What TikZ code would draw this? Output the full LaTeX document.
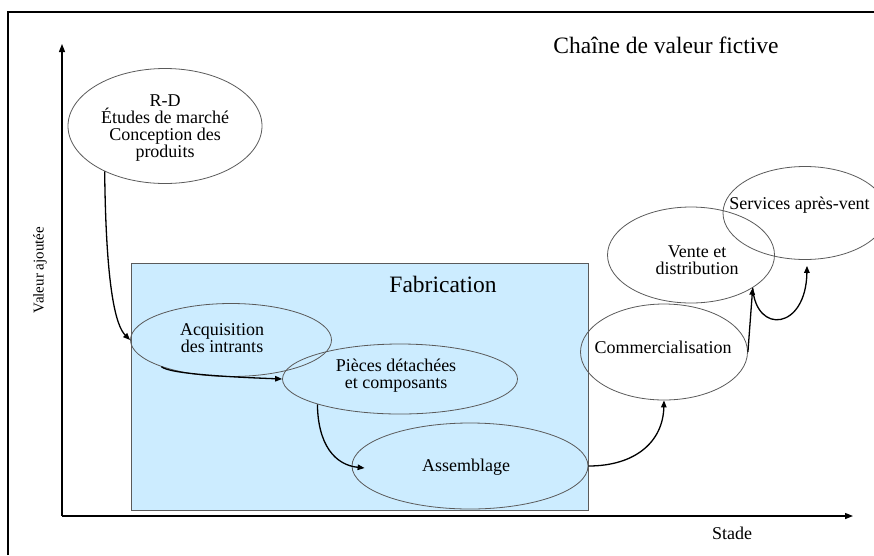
\documentclass[tikz,border=0pt]{standalone}
\usepackage{fontspec}
\setmainfont{Liberation Serif}
\usetikzlibrary{arrows.meta,shapes.geometric,calc}
\definecolor{fabblue}{HTML}{CCECFF}
\definecolor{ellgray}{HTML}{5A5A5A}
\begin{document}
\begin{tikzpicture}[x=1pt,y=-1pt,
  ell/.style={ellipse,draw=ellgray,line width=0.8pt,inner sep=0pt},
  lbl/.style={align=center,inner sep=0pt,font=\fontsize{18}{17}\selectfont},
  big/.style={inner sep=0pt,font=\fontsize{23.5}{26}\selectfont},
  conn/.style={line width=1.3pt,-{Triangle[length=7pt,width=5.5pt]}},
  axisline/.style={line width=1.3pt,-{Triangle[length=8pt,width=6pt]}},
]
\useasboundingbox (0,0) rectangle (874,555);
% frame
\draw[line width=1.5pt] (8,555) -- (8,12) -- (874,12);
% axes
\coordinate (origin) at (62,516);
\coordinate (ytip) at (62,44);
\coordinate (xtip) at (853,516);
\draw[axisline] (origin) -- (ytip);
\draw[axisline] (origin) -- (xtip);
\node[inner sep=0pt,rotate=90,font=\fontsize{15}{17}\selectfont] (yl) at (40,270) {Valeur ajoutée};
\node[lbl] (xl) at (732,533) {Stade};
\node[big] (title) at (666,45) {Chaîne de valeur fictive};
% fabrication box
\node[draw=ellgray,fill=fabblue,line width=0.8pt,minimum width=457pt,minimum height=247pt,inner sep=0pt,anchor=north west] (fab) at (131,263) {};
\node[big] (fabl) at (443,284) {Fabrication};
% ellipses
\node[ell,minimum width=194pt,minimum height=115pt] (rd) at (165,126) {};
\node[ell,minimum width=201pt,minimum height=73pt] (acq) at (231,340) {};
\node[ell,minimum width=235pt,minimum height=70pt] (pcs) at (400,379) {};
\node[ell,minimum width=236pt,minimum height=86pt] (asm) at (470,466) {};
\node[ell,minimum width=167pt,minimum height=96pt] (com) at (664,352) {};
\node[ell,minimum width=167pt,minimum height=96pt] (vte) at (691,255) {};
\node[ell,minimum width=164pt,minimum height=93pt] (svc) at (805,213) {};
% labels
\node[lbl] (rdl) at (165,128) {R-D\\Études de marché\\Conception des\\produits};
\node[lbl] (acql) at (222,338) {Acquisition\\des intrants};
\node[lbl] (pcsl) at (396,376) {Pièces détachées\\et composants};
\node[lbl] (asml) at (466,467) {Assemblage};
\node[lbl] (coml) at (663,347) {Commercialisation};
\node[lbl] (vtel) at (697,260) {Vente et\\distribution};
\node[lbl] (svcl) at (799.5,205) {Services après-vent};
% connectors
\draw[conn] (rd.217) .. controls (106,290) and (116,326) .. (acq.west);
\draw[conn] (acq.201) .. controls (170,374) and (230,377) .. (pcs.west);
\draw[conn] (pcs.197) .. controls (318,445) and (335,465) .. ($(asm.west)+(13,2)$);
\draw[conn] (asm.east) .. controls (635,466) and (663,442) .. (com.south);
\draw[conn] (com.east) -- (vte.332);
\draw[conn] (vte.332) .. controls (756,335) and (806,330) .. ($(svc.south)+(2,6)$);
\end{tikzpicture}
\end{document}
